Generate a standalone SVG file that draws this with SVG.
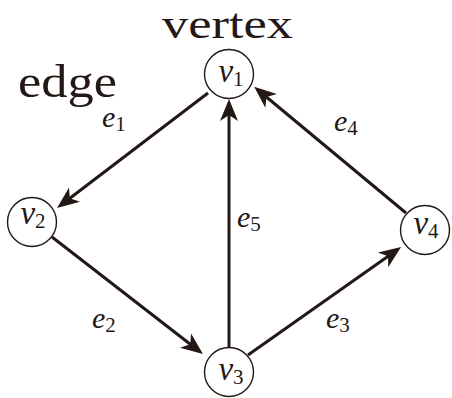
<svg xmlns="http://www.w3.org/2000/svg" width="452" height="398" viewBox="0 0 452 398">
<style>
.node{fill:#fff;stroke:#231815;stroke-width:1.4}
.edge{stroke:#231815;stroke-width:3;fill:none}
.lbl{font-family:"Liberation Serif",serif;fill:#231815}
.math{font-family:"Liberation Serif",serif;font-style:italic;font-size:30px;fill:#231815}
.vm{font-size:33px}
.sub{font-style:normal;font-size:21px}
</style>
<defs>
<marker id="arr" markerUnits="userSpaceOnUse" viewBox="-20 -20 40 40" markerWidth="40" markerHeight="40" refX="0" refY="0" orient="auto" overflow="visible">
<path d="M5,0 L-17,-9 L-11,0 L-17,9 Z" fill="#231815"/>
</marker>
</defs>
<rect width="452" height="398" fill="#fff"/>
<text class="lbl" x="162" y="38" font-size="43" textLength="131" lengthAdjust="spacingAndGlyphs">vertex</text>
<text class="lbl" x="18" y="97" font-size="46" textLength="99" lengthAdjust="spacingAndGlyphs">edge</text>
<g id="connectors">
<line class="edge" x1="208" y1="93" x2="61" y2="205" marker-end="url(#arr)"/>
<line class="edge" x1="52" y1="237" x2="199" y2="351" marker-end="url(#arr)"/>
<line class="edge" x1="248" y1="355" x2="397" y2="250" marker-end="url(#arr)"/>
<line class="edge" x1="406" y1="213" x2="258" y2="90" marker-end="url(#arr)"/>
<line class="edge" x1="229" y1="348" x2="229" y2="104" marker-end="url(#arr)"/>
<text class="math" x="102" y="127">e<tspan class="sub" dy="4">1</tspan></text>
<text class="math" x="92" y="328">e<tspan class="sub" dy="4">2</tspan></text>
<text class="math" x="326" y="328">e<tspan class="sub" dy="4">3</tspan></text>
<text class="math" x="334" y="131">e<tspan class="sub" dy="4">4</tspan></text>
<text class="math" x="237" y="227">e<tspan class="sub" dy="4">5</tspan></text>
</g>
<g id="v1"><circle class="node" cx="229" cy="74" r="24.5"/><text class="math vm" x="231" y="82" text-anchor="middle">v<tspan class="sub" dy="4">1</tspan></text></g>
<g id="v2"><circle class="node" cx="32" cy="222" r="24.5"/><text class="math vm" x="33" y="224" text-anchor="middle">v<tspan class="sub" dy="4">2</tspan></text></g>
<g id="v3"><circle class="node" cx="229" cy="372" r="24.5"/><text class="math vm" x="231" y="380" text-anchor="middle">v<tspan class="sub" dy="4">3</tspan></text></g>
<g id="v4"><circle class="node" cx="425" cy="230" r="24.5"/><text class="math vm" x="426" y="234" text-anchor="middle">v<tspan class="sub" dy="4">4</tspan></text></g>
</svg>
